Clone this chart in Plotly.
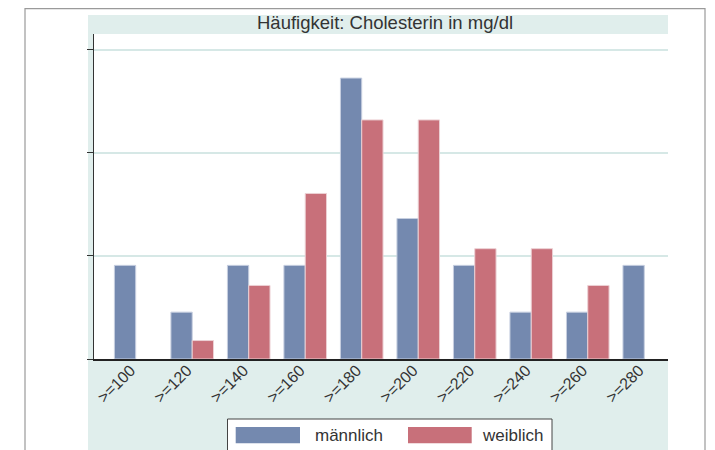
import plotly.graph_objects as go

categories = [">=100", ">=120", ">=140", ">=160", ">=180", ">=200", ">=220", ">=240", ">=260", ">=280"]
series_names = ["männlich", "weiblich"]
maennlich = [9.09, 4.55, 9.09, 9.09, 27.27, 13.64, 9.09, 4.55, 4.55, 9.09]
weiblich = [None, 1.79, 7.14, 16.07, 23.21, 23.21, 10.71, 10.71, 7.14, None]
y_ticks = [0, 10, 20, 30]
title_text = "Häufigkeit: Cholesterin in mg/dl"

BLUE = "#7489af"
RED = "#c8707a"
TEAL = "#e0eeec"
GRID = "#d6e8e6"
FONT = "Liberation Sans, Arial, sans-serif"

# the page body adds an 8px offset; lay out in window pixels and subtract it
OFF = 8
W, H = 715 - OFF, 450 - OFF
L, R, T, B = 94 - OFF, 668 - OFF, 34 - OFF, 359 - OFF


def px(x):
    return (x - OFF - L) / (R - L)


def py(y):
    return (B - (y - OFF)) / (B - T)


fig = go.Figure()
fig.add_trace(go.Bar(x=categories, y=maennlich, name=series_names[0],
                     marker=dict(color=BLUE, line=dict(color="#c7cfe0", width=1))))
fig.add_trace(go.Bar(x=categories, y=weiblich, name=series_names[1],
                     marker=dict(color=RED, line=dict(color="#ecd0d4", width=1))))

shapes = [
    dict(type="rect", xref="paper", yref="paper", x0=px(25), x1=px(705), y0=py(8.6), y1=py(470),
         line=dict(color="#9a9a9a", width=1.2), fillcolor="white", layer="below"),
    dict(type="rect", xref="paper", yref="paper", x0=px(88), x1=px(668), y0=py(15), y1=py(470),
         line=dict(width=0), fillcolor=TEAL, layer="below"),
    dict(type="rect", xref="paper", yref="paper", x0=px(94), x1=px(668), y0=py(34), y1=py(359),
         line=dict(width=0), fillcolor="white", layer="below"),
    dict(type="rect", xref="paper", yref="paper", x0=px(227.5), x1=px(552), y0=py(419), y1=py(470),
         line=dict(color="#444444", width=1), fillcolor="white", layer="above"),
    dict(type="rect", xref="paper", yref="paper", x0=px(235.7), x1=px(300), y0=py(427), y1=py(443.3),
         line=dict(width=0), fillcolor=BLUE, layer="above"),
    dict(type="rect", xref="paper", yref="paper", x0=px(408), x1=px(471.7), y0=py(427), y1=py(443.3),
         line=dict(width=0), fillcolor=RED, layer="above"),
]

annotations = [
    dict(text=title_text, xref="paper", yref="paper", x=px(385), y=py(23),
         xanchor="center", yanchor="middle", showarrow=False,
         font=dict(family=FONT, size=18.5, color="#333333")),
    dict(text=series_names[0], xref="paper", yref="paper", x=px(313), y=py(435),
         xanchor="left", yanchor="middle", showarrow=False,
         font=dict(family=FONT, size=17, color="#333333")),
    dict(text=series_names[1], xref="paper", yref="paper", x=px(480), y=py(435),
         xanchor="left", yanchor="middle", showarrow=False,
         font=dict(family=FONT, size=17, color="#333333")),
]

fig.update_layout(
    width=W, height=H,
    margin=dict(l=L, r=W - R, t=T, b=H - B, autoexpand=False),
    paper_bgcolor="white", plot_bgcolor="white",
    barmode="group", bargap=0.246, bargroupgap=0,
    showlegend=False,
    shapes=shapes, annotations=annotations,
    font=dict(family=FONT, color="#333333"),
)
fig.update_xaxes(type="category", range=[-0.738, 9.42], showgrid=False, zeroline=False,
                 showline=True, linecolor="#222222", linewidth=1.5, ticks="",
                 tickangle=-45, ticklabelstandoff=-6, ticklabelshift=-5,
                 tickfont=dict(family=FONT, size=16, color="#333333"))
fig.update_yaxes(range=[0, 31.55], tickvals=y_ticks, showticklabels=False, ticks="outside",
                 ticklen=6, tickcolor="#333333", tickwidth=1, showline=True, linecolor="#333333",
                 linewidth=1.2, showgrid=True, gridcolor=GRID, gridwidth=1.5, zeroline=False)

fig.write_html("out.html")
